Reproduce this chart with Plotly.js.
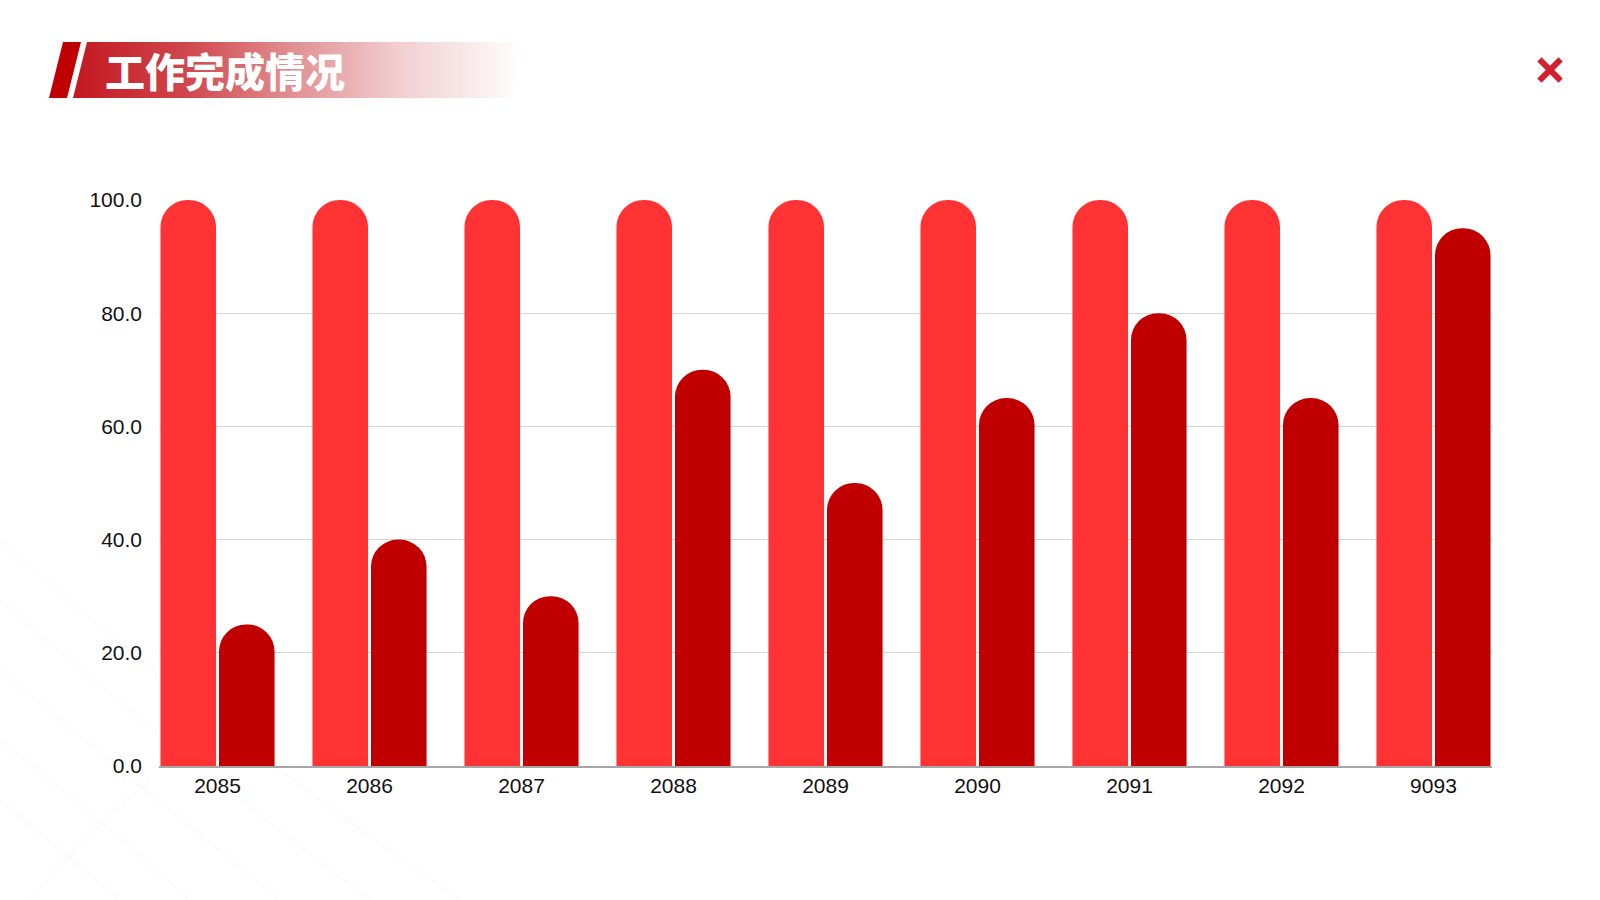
<!DOCTYPE html>
<html>
<head>
<meta charset="utf-8">
<script src="https://cdn.plot.ly/plotly-3.0.1.min.js"></script>
<style>
  html, body { margin: 0; padding: 0; background: #ffffff; }
  #wrap { position: relative; width: 1600px; height: 900px; overflow: hidden; background: #ffffff; }
  #bg { position: absolute; left: 0; top: 0; width: 1600px; height: 900px; }
  #chart { position: absolute; left: 0; top: 0; width: 1600px; height: 900px; }
  .slash { position: absolute; left: 49px; top: 42px; width: 32px; height: 56px; background: #C00000;
           clip-path: polygon(14px 0, 32px 0, 18px 100%, 0 100%); }
  .band { position: absolute; left: 73px; top: 42px; width: 450px; height: 56px;
          clip-path: polygon(14px 0, 100% 0, calc(100% - 14px) 100%, 0 100%);
          background: linear-gradient(to right, #C3171F 0%, #D0464C 25%, #E29396 50%, #F1CDCF 72%, rgba(255,255,255,0) 100%); }
  .title { position: absolute; left: 105px; top: 42px; height: 56px; line-height: 56px; color: #ffffff;
           font-family: "Noto Sans CJK SC", sans-serif; font-weight: 900; font-size: 40px; letter-spacing: 0px; }
  .close { position: absolute; left: 1537px; top: 57px; width: 26px; height: 26px; }
  .close::before, .close::after { content: ""; position: absolute; left: -2px; top: 10px; width: 30px; height: 6px; background: #D41F2E; }
  .close::before { transform: rotate(45deg); }
  .close::after { transform: rotate(-45deg); }
</style>
</head>
<body>
<div id="wrap">
  <svg id="bg" width="1600" height="900">
    <g stroke="#F5F5F5" stroke-width="1" fill="none">
      <path d="M0 540 Q 200 720 460 900"/>
      <path d="M0 600 Q 160 740 370 900"/>
      <path d="M0 670 Q 120 770 280 900"/>
      <path d="M0 740 Q 90 810 190 900"/>
      <path d="M0 800 L 120 900"/>
      <path d="M30 900 Q 90 830 150 780"/>
    </g>
  </svg>
  <div id="chart"></div>
  <div class="slash"></div>
  <div class="band"></div>
  <div class="title">工作完成情况</div>
  <div class="close"></div>
</div>
<script>
const categories = ["2085", "2086", "2087", "2088", "2089", "2090", "2091", "2092", "9093"];
const planValues = [100, 100, 100, 100, 100, 100, 100, 100, 100];
const doneValues = [25, 40, 30, 70, 50, 65, 80, 65, 95];
const yTicks = [0, 20, 40, 60, 80, 100];

const traces = [
  {
    type: "bar", x: categories, y: planValues, name: "计划",
    marker: { color: "#FF3333", cornerradius: "50%" },
    hoverinfo: "x+y"
  },
  {
    type: "bar", x: categories, y: doneValues, name: "完成",
    marker: { color: "#C00000", cornerradius: "50%" },
    hoverinfo: "x+y"
  }
];

const layout = {
  width: 1600, height: 900,
  paper_bgcolor: "rgba(0,0,0,0)", plot_bgcolor: "rgba(0,0,0,0)",
  margin: { l: 159, r: 108, t: 200, b: 134 },
  barmode: "group", bargap: 0.23, bargroupgap: 0.05,
  showlegend: false,
  font: { family: "Liberation Sans, Arial, sans-serif", size: 21, color: "#111111" },
  xaxis: {
    type: "category", range: [-0.385, 8.385],
    showgrid: false, zeroline: false,
    showline: true, linecolor: "#A6A6A6", linewidth: 1.5,
    ticks: "", ticklabelstandoff: 0,
    tickfont: { size: 21, color: "#111111" },
    fixedrange: true
  },
  yaxis: {
    range: [0, 100], tickvals: yTicks, tickformat: ".1f",
    showgrid: true, gridcolor: "#D4D4D4", gridwidth: 1.2,
    zeroline: false, showline: false,
    ticks: "", ticklabelstandoff: 16,
    tickfont: { size: 21, color: "#111111" },
    fixedrange: true
  }
};

Plotly.newPlot("chart", traces, layout, { displayModeBar: false, staticPlot: true });
</script>
</body>
</html>
